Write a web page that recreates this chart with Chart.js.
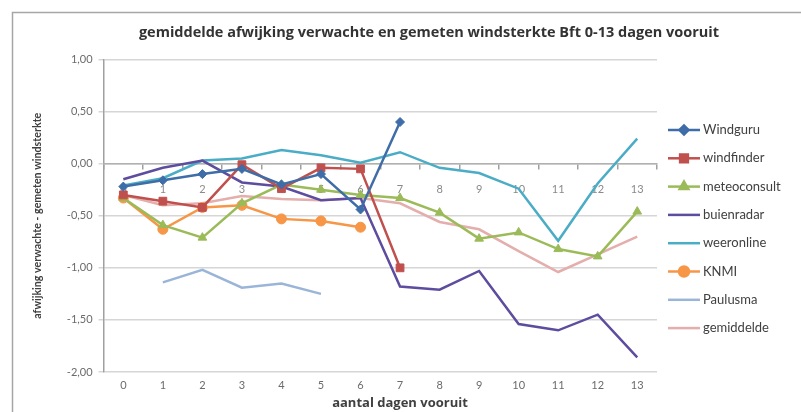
<!DOCTYPE html>
<html>
<head>
<meta charset="utf-8">
<script src="https://cdn.jsdelivr.net/npm/chart.js@4"></script>
<style>
  html, body { margin: 0; padding: 0; background: #fff; }
  #wrap { position: relative; width: 801px; height: 412px; }
</style>
</head>
<body>
<div id="wrap"><canvas id="windChart" width="801" height="412"></canvas></div>
<script>
const days = ["0", "1", "2", "3", "4", "5", "6", "7", "8", "9", "10", "11", "12", "13"];
const yTicks = [1, 0.5, 0, -0.5, -1, -1.5, -2];

const windguru = [-0.22, -0.16, -0.10, -0.05, -0.20, -0.10, -0.44, 0.40, null, null, null, null, null, null];
const windfinder = [-0.30, -0.36, -0.42, -0.01, -0.24, -0.04, -0.05, -1.00, null, null, null, null, null, null];
const meteoconsult = [-0.33, -0.59, -0.71, -0.38, -0.20, -0.25, -0.30, -0.33, -0.47, -0.72, -0.66, -0.82, -0.89, -0.46];
const buienradar = [-0.15, -0.04, 0.03, -0.18, -0.22, -0.35, -0.33, -1.18, -1.21, -1.03, -1.54, -1.60, -1.45, -1.86];
const weeronline = [-0.21, -0.14, 0.03, 0.05, 0.13, 0.08, 0.01, 0.11, -0.04, -0.09, -0.24, -0.74, -0.19, 0.24];
const knmi = [-0.33, -0.63, -0.42, -0.40, -0.53, -0.55, -0.61, null, null, null, null, null, null, null];
const paulusma = [null, -1.14, -1.02, -1.19, -1.15, -1.25, null, null, null, null, null, null, null, null];
const gemiddelde = [-0.30, -0.40, -0.38, -0.31, -0.34, -0.35, -0.33, -0.38, -0.56, -0.63, -0.84, -1.04, -0.87, -0.70];

const chartTitle = "gemiddelde afwijking verwachte en gemeten windsterkte Bft 0-13 dagen vooruit";
const xTitle = "aantal dagen vooruit";
const yTitle = "afwijking verwachte - gemeten windsterkte";

const FONT = "Lato, 'Open Sans', sans-serif";
const WIDE = "'Open Sans', Lato, sans-serif";

function series(label, data, color, pointStyle, radius) {
  return {
    label: label,
    data: data,
    borderColor: color,
    backgroundColor: color,
    borderWidth: 2.5,
    pointStyle: pointStyle || "circle",
    pointRadius: radius || 0,
    pointHoverRadius: radius || 0,
    pointBorderWidth: 1,
    tension: 0,
    spanGaps: false,
  };
}

const chartData = {
  labels: days,
  datasets: [
    series("Windguru", windguru, "#3e6da8", "rectRot", 4.5),
    series("windfinder", windfinder, "#c0504d", "rect", 5.5),
    series("meteoconsult", meteoconsult, "#9bbb59", "triangle", 5),
    series("buienradar", buienradar, "#5e4c9e"),
    series("weeronline", weeronline, "#4bacc6"),
    series("KNMI", knmi, "#f79646", "circle", 5),
    series("Paulusma", paulusma, "#9ab5d8"),
    series("gemiddelde", gemiddelde, "#e3aeac"),
  ],
};

// frame around the whole chart + the chart and x axis titles
const framePlugin = {
  id: "frame",
  beforeDraw(chart) {
    const ctx = chart.ctx;
    ctx.save();
    ctx.fillStyle = "#fff";
    ctx.fillRect(0, 0, chart.width, chart.height);
    ctx.strokeStyle = "#a6a6a6";
    ctx.lineWidth = 1.5;
    ctx.strokeRect(12.5, 12.5, chart.width, chart.height);
    ctx.restore();
  },
  afterDraw(chart) {
    const ctx = chart.ctx;
    ctx.save();
    ctx.textAlign = "center";
    ctx.textBaseline = "middle";
    ctx.fillStyle = "#333333";
    ctx.font = "bold 14.5px " + WIDE;
    ctx.fillText(chartTitle, 429, 33);
    ctx.fillStyle = "#404040";
    ctx.font = "bold 13px " + WIDE;
    ctx.fillText(xTitle, 400, 403);
    ctx.restore();
  },
};

// legend with line + marker per series
const sideLegend = {
  id: "sideLegend",
  afterDraw(chart) {
    const ctx = chart.ctx;
    const x0 = 668, x1 = 700, top = 130, step = 28.3;
    ctx.save();
    chart.data.datasets.forEach((ds, i) => {
      const y = top + i * step;
      ctx.strokeStyle = ds.borderColor;
      ctx.lineWidth = ds.borderWidth;
      ctx.beginPath();
      ctx.moveTo(x0, y);
      ctx.lineTo(x1, y);
      ctx.stroke();
      if (ds.pointRadius > 0) {
        ctx.fillStyle = ds.backgroundColor;
        Chart.helpers.drawPoint(ctx, {
          pointStyle: ds.pointStyle,
          radius: ds.pointRadius,
          borderWidth: 1,
          rotation: 0,
        }, (x0 + x1) / 2, y);
        ctx.fill();
      }
      ctx.fillStyle = "#404040";
      ctx.font = "13px " + FONT;
      ctx.textBaseline = "middle";
      ctx.fillText(ds.label, x1 + 3, y);
    });
    ctx.restore();
  },
};

const chartOptions = {
  responsive: false,
  animation: false,
  layout: {
    padding: { top: 59.5, left: 31, right: 144, bottom: 12.8 },
  },
  scales: {
    y: {
      min: -2,
      max: 1,
      afterBuildTicks: (axis) => {
        axis.ticks = yTicks.map((v) => ({ value: v }));
      },
      ticks: {
        color: "#6b6b6b",
        font: { family: FONT, size: 11 },
        padding: 6,
        callback: (v) => v.toFixed(2).replace(".", ","),
      },
      grid: {
        color: "#d6d6d6",
        lineWidth: 1.5,
        tickLength: 5,
      },
      border: { color: "#a0a0a0", width: 1.5 },
      title: {
        display: true,
        text: yTitle,
        color: "#404040",
        font: { family: FONT, size: 10.7, weight: "bold" },
        padding: { top: 0, bottom: 17 },
      },
    },
    x: {
      type: "category",
      offset: true,
      grid: { display: false, drawTicks: false },
      border: { display: false },
      ticks: {
        color: "#6b6b6b",
        font: { family: FONT, size: 11 },
        padding: 7,
      },
    },
    x0: {
      type: "category",
      position: { y: 0 },
      offset: true,
      grid: {
        offset: true,
        drawOnChartArea: false,
        tickLength: 5,
        color: "#a0a0a0",
        lineWidth: 1.5,
      },
      border: { color: "#b0b0b0", width: 1.5 },
      ticks: {
        color: "#8a8a8a",
        font: { family: FONT, size: 11 },
        padding: 14,
      },
    },
  },
  plugins: {
    legend: { display: false },
    tooltip: { enabled: false },
    title: { display: false },
  },
};

const ctx = document.getElementById("windChart");
new Chart(ctx, {
  type: "line",
  data: chartData,
  options: chartOptions,
  plugins: [framePlugin, sideLegend],
});
</script>
</body>
</html>
